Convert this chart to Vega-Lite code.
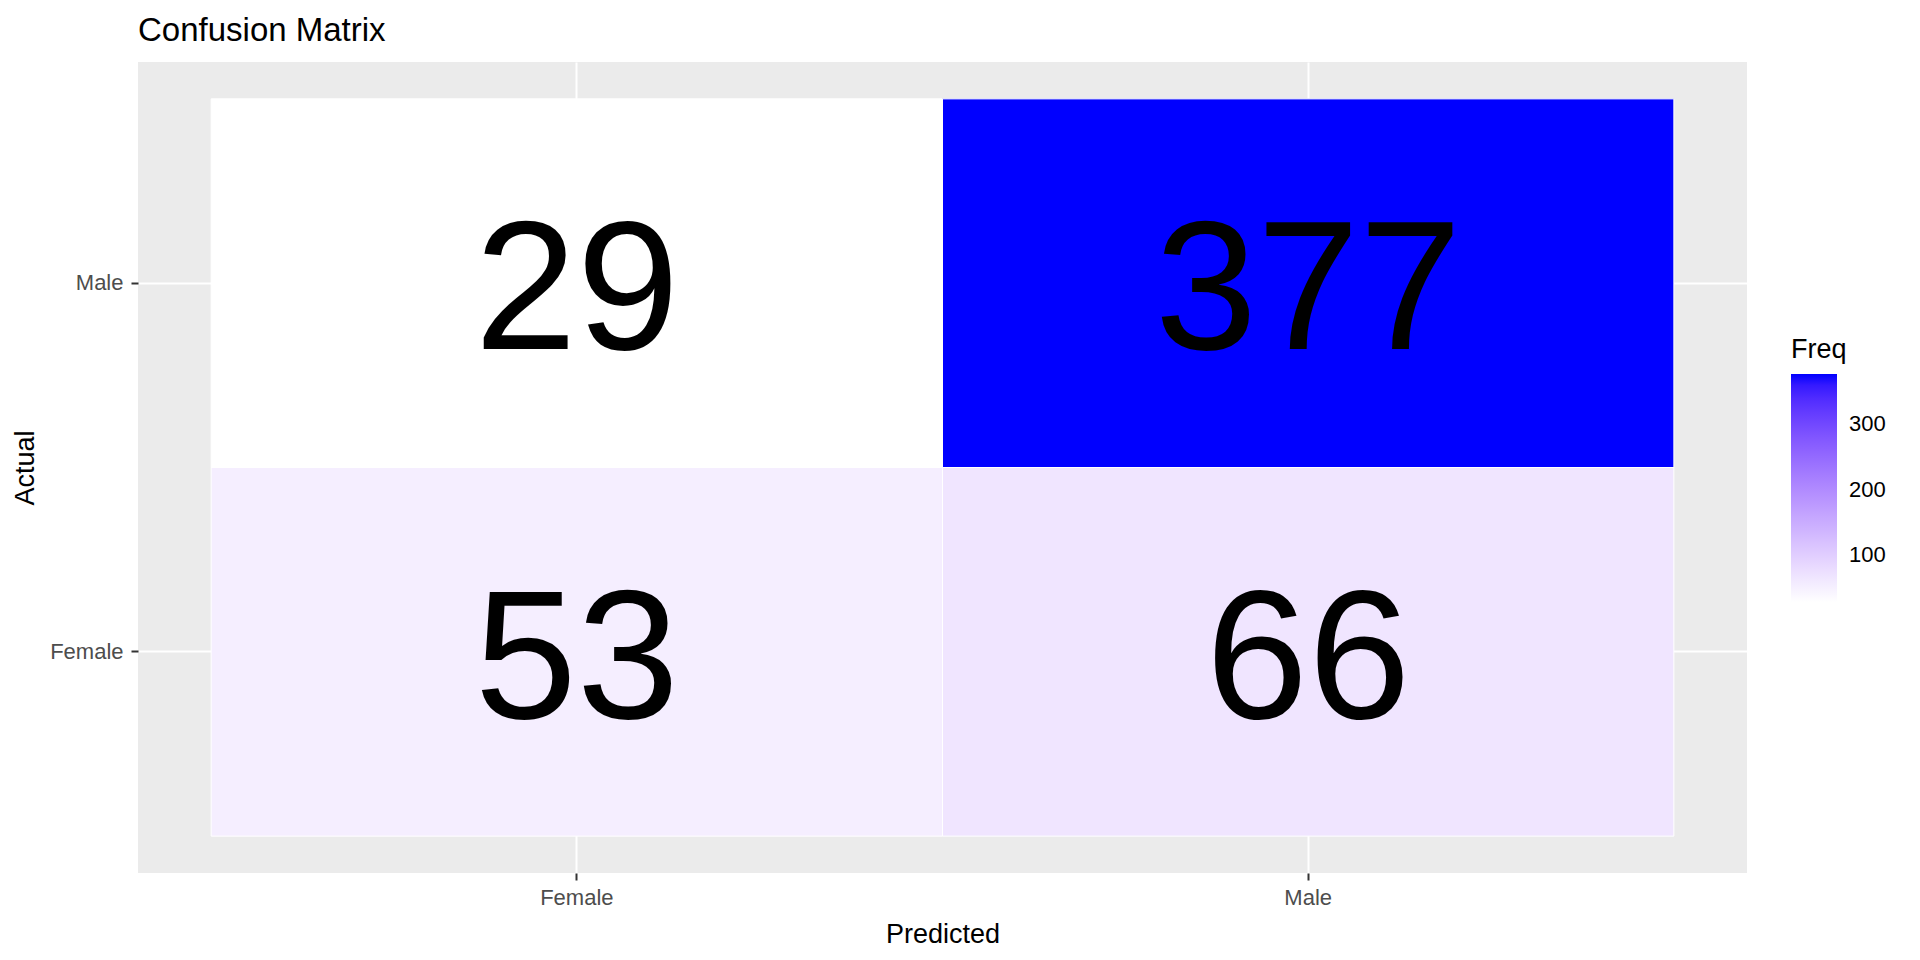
{
  "$schema": "https://vega.github.io/schema/vega-lite/v6.json",
  "autosize": {"type": "none"},
  "padding": {"left": 138, "top": 62, "right": 173, "bottom": 87},
  "width": 1609,
  "height": 811,
  "background": "white",
  "title": {"text": "Confusion Matrix", "anchor": "start", "frame": "group", "font": "Liberation Sans", "fontSize": 33, "fontWeight": "normal", "color": "black", "offset": 14},
  "data": {"values": [
    {"Predicted": "Female", "Actual": "Male", "Freq": 29},
    {"Predicted": "Male", "Actual": "Male", "Freq": 377},
    {"Predicted": "Female", "Actual": "Female", "Freq": 53},
    {"Predicted": "Male", "Actual": "Female", "Freq": 66}
  ]},
  "encoding": {
    "x": {"field": "Predicted", "type": "nominal", "sort": ["Female", "Male"], "scale": {"paddingInner": 0, "paddingOuter": 0.1}, "axis": {"labelAngle": 0, "titlePadding": 13, "labelPadding": 7, "zindex": 0}},
    "y": {"field": "Actual", "type": "nominal", "sort": ["Male", "Female"], "scale": {"paddingInner": 0, "paddingOuter": 0.1}, "axis": {"labelAngle": 0, "titlePadding": 10, "labelPadding": 8, "zindex": 0}}
  },
  "layer": [
    {
      "mark": {"type": "rect", "stroke": "white", "strokeWidth": 1},
      "encoding": {
        "color": {
          "field": "Freq", "type": "quantitative",
          "scale": {"range": ["white", "blue"], "interpolate": "lab", "zero": false, "nice": false},
          "legend": {"title": "Freq", "orient": "none", "legendX": 1653, "legendY": 275, "direction": "vertical", "gradientLength": 228, "gradientThickness": 46, "gradientStrokeWidth": 0, "values": [100, 200, 300], "titleFont": "Liberation Sans", "titleFontSize": 27, "titleFontWeight": "normal", "titleColor": "black", "titlePadding": 10, "labelFont": "Liberation Sans", "labelFontSize": 22, "labelColor": "black", "labelOffset": 12}
        }
      }
    },
    {
      "mark": {"type": "text", "font": "Liberation Sans", "fontSize": 184, "baseline": "middle", "align": "center", "color": "black", "dy": 11},
      "encoding": {"text": {"field": "Freq", "type": "quantitative"}}
    }
  ],
  "config": {
    "view": {"fill": "#EBEBEB", "stroke": null},
    "axis": {"domain": false, "grid": true, "gridColor": "white", "gridWidth": 2, "bandPosition": 0.5, "tickColor": "#333333", "tickWidth": 2, "tickSize": 7, "labelFont": "Liberation Sans", "labelFontSize": 22, "labelColor": "#4D4D4D", "titleFont": "Liberation Sans", "titleFontSize": 27, "titleFontWeight": "normal", "titleColor": "black"}
  }
}
